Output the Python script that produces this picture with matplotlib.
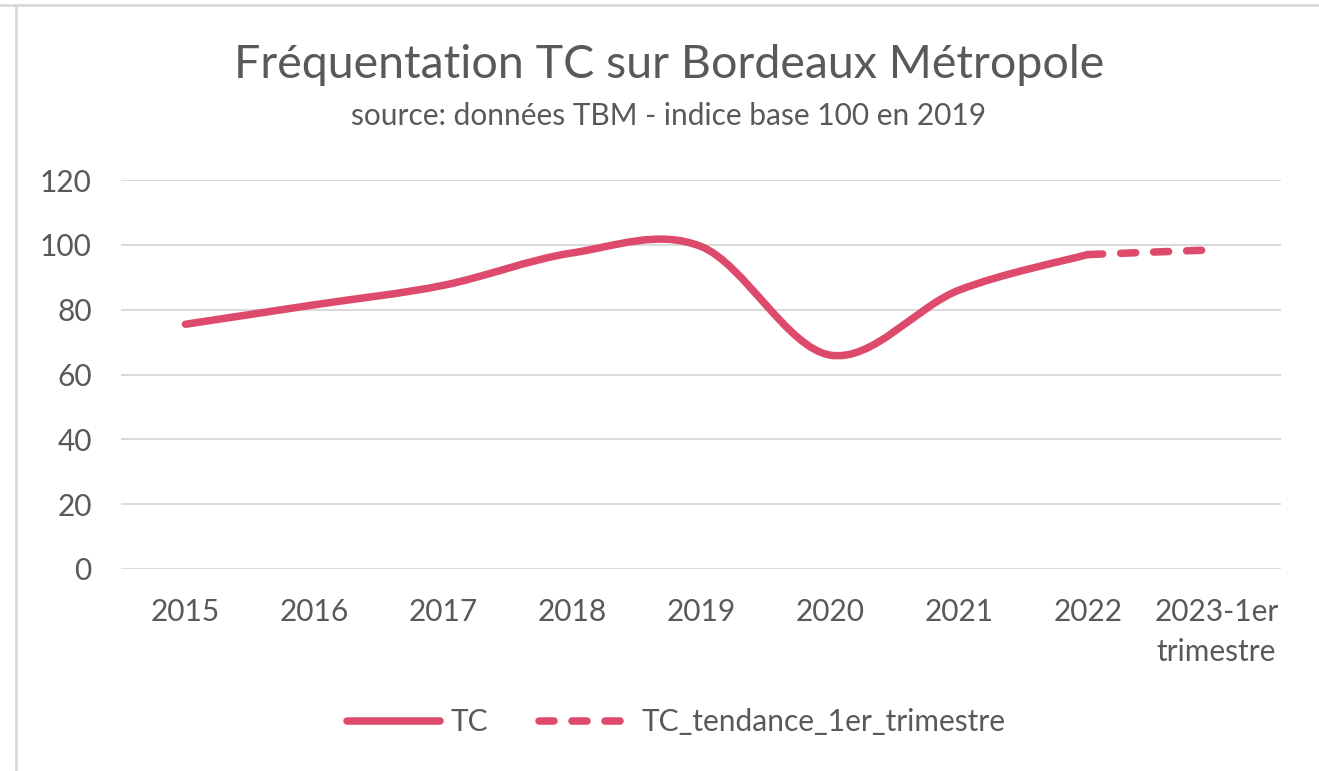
import matplotlib
matplotlib.use("Agg")
import matplotlib.pyplot as plt
from matplotlib.path import Path
from matplotlib.patches import PathPatch
from matplotlib.lines import Line2D

# data (index base 100 in 2019)
categories = ["2015", "2016", "2017", "2018", "2019", "2020", "2021", "2022", "2023-1er\ntrimestre"]
tc = [75.5, 81.5, 87.5, 97.5, 99.5, 66.0, 86.0, 97.0]
tc_tendance = [97.0, 98.5]          # 2022 -> 2023 1er trimestre
tendance_start = 7

color = "#DE4A6C"
grey_txt = "#595959"
grid_col = "#D9D9D9"
dash = (0, (2.0, 2.4))

plt.rcParams["font.family"] = ["Lato", "DejaVu Sans"]


def smooth_path(xs, ys):
    # excel-like smoothed line: cubic bezier segments (catmull-rom control points)
    n = len(xs)
    verts = [(xs[0], ys[0])]
    codes = [Path.MOVETO]
    for i in range(n - 1):
        x0, y0 = xs[max(i - 1, 0)], ys[max(i - 1, 0)]
        x1, y1 = xs[i], ys[i]
        x2, y2 = xs[i + 1], ys[i + 1]
        x3, y3 = xs[min(i + 2, n - 1)], ys[min(i + 2, n - 1)]
        c1 = (x1 + (x2 - x0) / 6, y1 + (y2 - y0) / 6)
        c2 = (x2 - (x3 - x1) / 6, y2 - (y3 - y1) / 6)
        verts += [c1, c2, (x2, y2)]
        codes += [Path.CURVE4] * 3
    return Path(verts, codes)


W, H = 1319, 771
fig = plt.figure(figsize=(W / 100, H / 100), dpi=100)
ax = fig.add_axes([121 / W, 1 - 569 / H, (1281 - 121) / W, (569 - 180) / H])

x_tc = list(range(len(tc)))
x_td = list(range(tendance_start, tendance_start + len(tc_tendance)))

ax.add_patch(PathPatch(smooth_path(x_tc, tc), fill=False, edgecolor=color,
                       lw=5.4, capstyle="round", joinstyle="round", zorder=3))
ax.add_patch(PathPatch(smooth_path(x_td, tc_tendance), fill=False, edgecolor=color,
                       lw=5.4, capstyle="round", linestyle=dash, zorder=3))

ax.set_xlim(-0.5, len(categories) - 0.5)
ax.set_ylim(0, 120)
ax.set_yticks(range(0, 121, 20))
ax.set_xticks(range(len(categories)))
ax.set_xticklabels(categories, linespacing=1.5)
ax.grid(axis="y", color=grid_col, lw=1.4)
ax.set_axisbelow(True)
for s in ax.spines.values():
    s.set_visible(False)
ax.tick_params(length=0, labelsize=21.5, labelcolor=grey_txt)
ax.tick_params(axis="y", pad=21)
ax.tick_params(axis="x", pad=21)
for lbl in ax.get_xticklabels():
    lbl.set_verticalalignment("top")

fig.text(669 / W, 1 - 65 / H, "Fréquentation TC sur Bordeaux Métropole", ha="center", va="center",
         fontsize=33.5, color=grey_txt)
fig.text(669 / W, 1 - 116 / H, "source: données TBM - indice base 100 en 2019", ha="center", va="center",
         fontsize=21.5, color=grey_txt)

handles = [Line2D([], [], color=color, lw=5.4, solid_capstyle="round"),
           Line2D([], [], color=color, lw=5.4, dash_capstyle="round", linestyle=dash)]
fig.legend(handles, ["TC", "TC_tendance_1er_trimestre"], loc="center", bbox_to_anchor=(0.513, 1 - 722 / H),
           ncol=2, frameon=False, fontsize=21.5, labelcolor=grey_txt, handlelength=3.1,
           handletextpad=0.35, columnspacing=1.7)

# light frame of the excel chart area
fig.add_artist(Line2D([0, 1], [1 - 5 / H, 1 - 5 / H], color=grid_col, lw=2, transform=fig.transFigure))
fig.add_artist(Line2D([16 / W, 16 / W], [0, 1 - 5 / H], color=grid_col, lw=2, transform=fig.transFigure))

fig.savefig("out.png", dpi=100)
